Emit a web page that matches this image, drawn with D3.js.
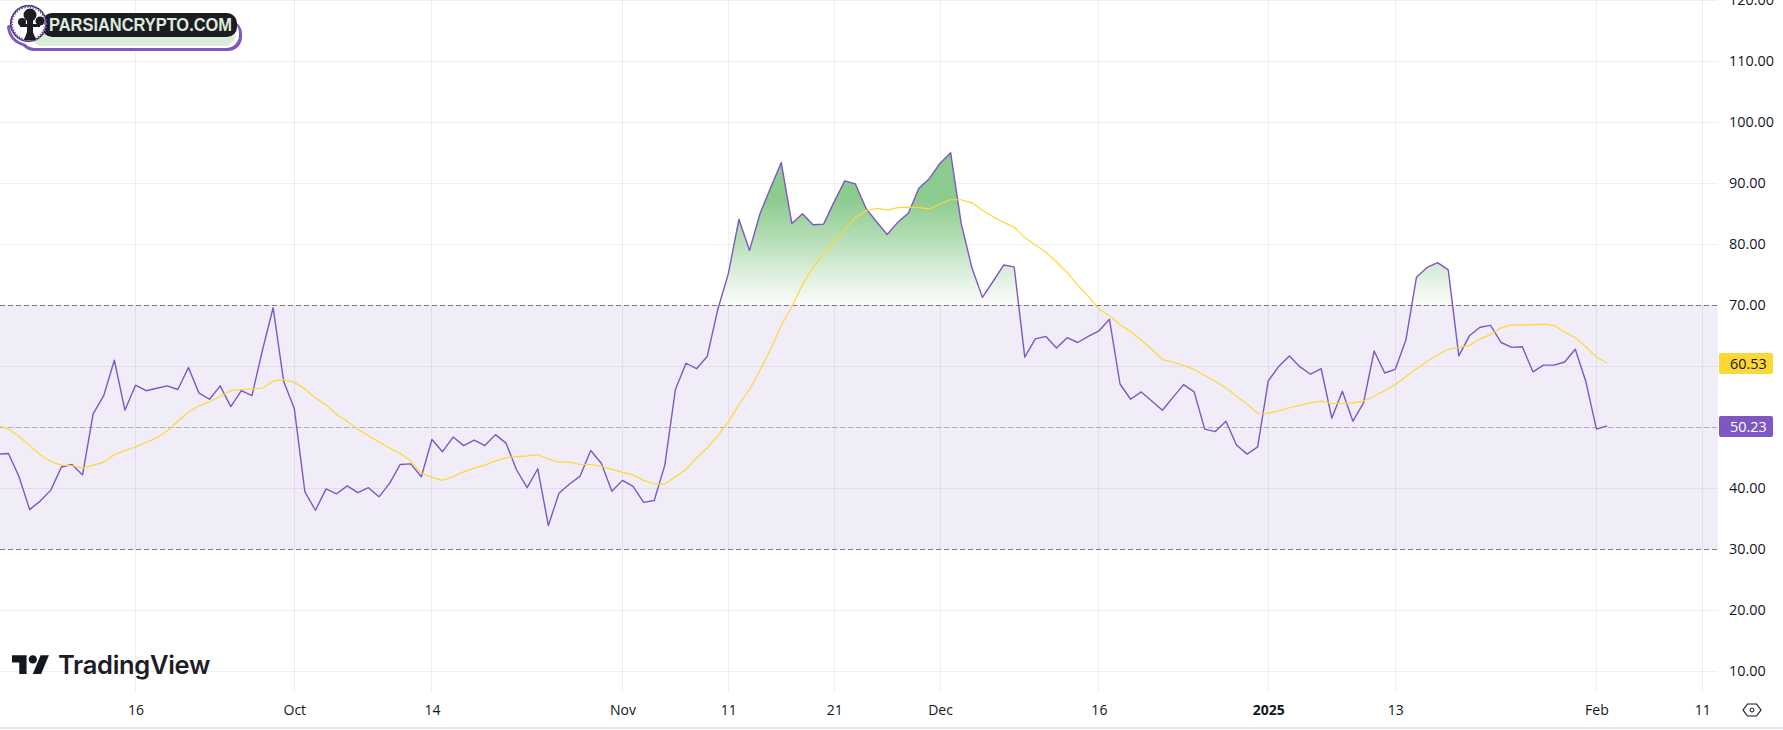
<!DOCTYPE html>
<html>
<head>
<meta charset="utf-8">
<script src="https://cdn.jsdelivr.net/npm/d3@7/dist/d3.min.js"></script>
<style>
  html, body { margin: 0; padding: 0; background: #fff; overflow: hidden; }
  svg { display: block; }
  text { font-family: "Open Sans", "Noto Sans", sans-serif; }
</style>
</head>
<body>
<svg id="chart" width="1783" height="730"></svg>
<script>
// Daily RSI readings, first value is 3 Sep 2024
const firstDay = "2024-09-03";
const rsiSep = [45.6,45.7,41.9,36.5,37.9,39.7,43.5,43.9,42.2,52.2,55.2,61.0,52.8,56.9,56.0,56.4,56.8,56.2,59.8,55.6,54.6,56.8,53.4,56.0,55.2,62.7,69.6,57.5];
const rsiOct = [53.1,39.4,36.4,39.9,39.1,40.4,39.3,40.1,38.6,40.8,43.9,44.0,41.9,48.0,46.0,48.4,47.0,47.9,47.0,48.8,47.4,43.0,40.1,43.2,33.9,39.2,40.7,42.0,46.2,44.1,39.5];
const rsiNov = [41.3,40.3,37.7,38.0,43.8,56.2,60.5,59.6,61.6,69.3,75.2,84.1,79.0,85.1,89.3,93.4,83.4,85.0,83.2,83.3,87.0,90.4,89.9,85.9,83.7,81.6,83.6,85.1,89.2,90.8];
const rsiDec = [93.3,95.0,83.4,76.2,71.3,73.9,76.6,76.3,61.5,64.5,64.9,63.0,64.7,63.9,64.9,65.8,67.7,57.1,54.6,55.8,54.3,52.8,54.9,57.0,55.8,49.7,49.3,51.0,47.1,45.6,46.8];
const rsiJan = [57.6,60.0,61.7,59.9,58.7,59.6,51.5,55.9,51.0,54.0,62.5,58.9,59.5,64.3,74.6,76.2,77.0,75.8,61.7,65.0,66.4,66.7,63.9,63.1,63.2,59.1,60.2,60.2,60.7,62.8,57.5];
const rsiFeb = [49.7,50.23];

// Smoothed RSI on the same days
const maSep = [50.3,49.7,48.5,47.0,45.5,44.4,43.8,43.7,43.3,43.8,44.3,45.5,46.2,46.8,47.5,48.3,49.4,51.0,52.5,53.5,54.2,55.1,56.0,56.2,56.3,56.4,57.6,57.8];
const maOct = [57.4,56.3,54.8,53.7,52.1,51.0,49.7,48.6,47.6,46.6,45.7,44.5,42.5,41.8,41.3,41.9,42.7,43.3,43.8,44.5,45.0,45.2,45.3,45.5,44.8,44.3,44.3,43.9,43.9,43.6,43.1];
const maNov = [42.6,42.2,41.3,40.7,40.7,41.9,43.1,45.0,46.6,48.6,50.9,53.7,56.2,59.4,62.8,66.7,69.8,73.4,76.2,78.4,80.3,82.5,84.4,85.5,85.9,85.6,86.0,86.1,86.0,85.8];
const maDec = [86.6,87.3,87.3,86.8,85.6,84.5,83.6,82.8,81.1,79.9,78.7,77.1,75.4,73.3,71.5,69.4,68.3,66.8,65.7,64.3,62.8,61.1,60.7,60.1,59.5,58.5,57.5,56.5,55.1,53.8,52.3];
const maJan = [52.3,52.7,53.2,53.6,54.0,54.3,53.9,53.9,54.0,54.3,55.1,56.0,57.0,58.3,59.6,60.8,61.9,62.8,63.1,63.4,64.5,65.2,66.3,66.8,66.8,66.8,66.9,66.7,65.6,64.7,63.2];
const maFeb = [61.5,60.53];

const timeTickDays = ["2024-09-16","2024-10-01","2024-10-14","2024-11-01","2024-11-11","2024-11-21","2024-12-01","2024-12-16","2025-01-01","2025-01-13","2025-02-01","2025-02-11"];
const timeTickLabels = ["16","Oct","14","Nov","11","21","Dec","16","2025","13","Feb","11"];
const valueTicks = [10,20,30,40,50,60,70,80,90,100,110,120];

const rsi = [].concat(rsiSep, rsiOct, rsiNov, rsiDec, rsiJan, rsiFeb);
const ma = [].concat(maSep, maOct, maNov, maDec, maJan, maFeb);
const start = new Date(firstDay + "T00:00:00Z");
const days = rsi.map((_, i) => d3.utcDay.offset(start, i));

const plotRight = 1718;
const plotBottom = 692;
const svg = d3.select("#chart");

// Pane scales: 6.1 px per RSI point, 10.586 px per day
const y = d3.scaleLinear().domain([10, 120]).range([671.3, 0.3]);
const x = d3.scaleUtc()
  .domain([new Date("2024-09-16T00:00:00Z"), new Date("2025-02-11T00:00:00Z")])
  .range([135.5, 1702.3]);

const defs = svg.append("defs");
defs.append("clipPath").attr("id", "pane")
  .append("rect").attr("x", 0).attr("y", 0).attr("width", plotRight).attr("height", plotBottom);
defs.append("clipPath").attr("id", "overbought")
  .append("rect").attr("x", 0).attr("y", 0).attr("width", plotRight).attr("height", y(70));
const grad = defs.append("linearGradient").attr("id", "obFill")
  .attr("gradientUnits", "userSpaceOnUse")
  .attr("x1", 0).attr("x2", 0).attr("y1", y(87.5)).attr("y2", y(70));
grad.append("stop").attr("offset", 0).attr("stop-color", "#8ccb8e");
grad.append("stop").attr("offset", 0.35).attr("stop-color", "#b2dcb3");
grad.append("stop").attr("offset", 0.7).attr("stop-color", "#dcefdc");
grad.append("stop").attr("offset", 1).attr("stop-color", "#fbfdfb");

// Neutral band between the 30 and 70 levels
svg.append("rect")
  .attr("x", 0).attr("width", plotRight)
  .attr("y", y(70)).attr("height", y(30) - y(70))
  .attr("fill", "#f0edf8");

// Grid
const gridColor = "rgba(42,46,90,0.075)";
const grid = svg.append("g");
grid.selectAll(".h").data(valueTicks).join("line")
  .attr("x1", 0).attr("x2", plotRight)
  .attr("y1", d => Math.floor(y(d)) + 0.5).attr("y2", d => Math.floor(y(d)) + 0.5)
  .attr("stroke", gridColor);
grid.selectAll(".v").data(timeTickDays).join("line")
  .attr("x1", d => Math.floor(x(new Date(d + "T00:00:00Z"))) + 0.5)
  .attr("x2", d => Math.floor(x(new Date(d + "T00:00:00Z"))) + 0.5)
  .attr("y1", 0).attr("y2", plotBottom)
  .attr("stroke", gridColor);

// Gradient fill where RSI runs above 70
svg.append("g").attr("clip-path", "url(#overbought)")
  .append("path")
  .datum(rsi)
  .attr("fill", "url(#obFill)")
  .attr("d", d3.area().x((_, i) => x(days[i])).y0(y(70)).y1(d => y(d)));

// Reference levels
const levels = [
  { v: 70, color: "#787b86", op: 1 },
  { v: 50, color: "#787b86", op: 0.5 },
  { v: 30, color: "#787b86", op: 1 }
];
svg.selectAll(".level").data(levels).join("line")
  .attr("x1", 0).attr("x2", plotRight)
  .attr("y1", d => Math.round(y(d.v)) + 0.5).attr("y2", d => Math.round(y(d.v)) + 0.5)
  .attr("stroke", d => d.color).attr("stroke-opacity", d => d.op)
  .attr("stroke-dasharray", "5 3");

// Series
const lineGen = d3.line().x((_, i) => x(days[i])).y(d => y(d));
const lines = svg.append("g").attr("clip-path", "url(#pane)");
lines.append("path").datum(rsi)
  .attr("fill", "none").attr("stroke", "#7e57c2").attr("stroke-width", 1.4)
  .attr("stroke-linejoin", "round").attr("d", lineGen);
lines.append("path").datum(ma)
  .attr("fill", "none").attr("stroke", "#fdd835").attr("stroke-width", 1.2)
  .attr("stroke-linejoin", "round").attr("d", lineGen);

// Value axis, labels start at a fixed left edge
const valueAxis = d3.axisRight(y).tickValues(valueTicks)
  .tickFormat(d3.format(".2f")).tickSize(0).tickPadding(0);
const gY = svg.append("g").attr("transform", "translate(1729,0)").call(valueAxis);
gY.select(".domain").remove();
gY.selectAll("text")
  .attr("text-anchor", "start").attr("x", 0)
  .style("font-size", "14.4px").attr("fill", "#131722");

// Time axis
const timeAxis = d3.axisBottom(x)
  .tickValues(timeTickDays.map(d => new Date(d + "T00:00:00Z")))
  .tickFormat((_, i) => timeTickLabels[i]).tickSize(0).tickPadding(0);
const gX = svg.append("g").attr("transform", "translate(0,705)").call(timeAxis);
gX.select(".domain").remove();
gX.selectAll("text")
  .style("font-size", "14px")
  .attr("fill", "#131722")
  .style("font-weight", (_, i) => timeTickLabels[i] === "2025" ? 700 : 400);

// Bottom edge
svg.append("rect").attr("x", 0).attr("y", 727).attr("width", 1783).attr("height", 2).attr("fill", "#e6e8ee");

// Last-value tags
const tags = [
  { v: ma[ma.length - 1], fill: "#fdd835", ink: "#131722", tagY: 353 },
  { v: rsi[rsi.length - 1], fill: "#7e57c2", ink: "#ffffff", tagY: 416 }
];
const tagG = svg.selectAll(".tag").data(tags).join("g");
tagG.append("rect")
  .attr("x", 1719).attr("width", 54).attr("y", d => d.tagY).attr("height", 21).attr("rx", 2)
  .attr("fill", d => d.fill);
tagG.append("text")
  .attr("x", 1730).attr("y", d => d.tagY + 15.5)
  .style("font-size", "14.4px").attr("fill", d => d.ink)
  .text(d => d.v.toFixed(2));

// Settings hexagon beside the time axis
const hex = svg.append("g").attr("transform", "translate(1752,710)");
hex.append("path").attr("d", "M-9,0L-4.5,-6H4.5L9,0L4.5,6H-4.5Z")
  .attr("fill", "none").attr("stroke", "#131722").attr("stroke-width", 1.2);
hex.append("circle").attr("r", 2).attr("fill", "none").attr("stroke", "#131722");

// TradingView mark and wordmark
const tv = svg.append("g");
tv.append("g").attr("transform", "translate(12,651.1) scale(1.04)")
  .attr("fill", "#131722")
  .call(g => {
    g.append("path").attr("d", "M14 22H7V11H0V4h14v18zM28 22h-8l7.5-18h8L28 22z");
    g.append("circle").attr("cx", 20).attr("cy", 8).attr("r", 4);
  });
tv.append("text").attr("x", 58).attr("y", 674)
  .style("font-family", "Inter, 'Open Sans', sans-serif")
  .style("font-size", "25.5px").style("font-weight", 600).style("letter-spacing", "-0.3px")
  .attr("fill", "#1c1e26").text("TradingView");

// Site watermark, top left
const wm = svg.append("g");
wm.append("rect").attr("x", 20).attr("y", 20).attr("width", 222).attr("height", 31).attr("rx", 14).attr("fill", "#7e57c2");
wm.append("path").attr("d", "M7,26 C8,42 22,50 40,46 L40,36 L16,22 Z").attr("fill", "#7e57c2");
wm.append("rect").attr("x", 22).attr("y", 20).attr("width", 217).attr("height", 28).attr("rx", 13).attr("fill", "#ffffff");
wm.append("path").attr("d", "M10,27 C11,40 24,47 40,44 L40,34 L18,24 Z").attr("fill", "#ffffff");
wm.append("rect").attr("x", 30).attr("y", 20).attr("width", 206).attr("height", 26).attr("rx", 12).attr("fill", "#dcecd9");
wm.append("rect").attr("x", 42).attr("y", 13).attr("width", 195).attr("height", 24).attr("rx", 10).attr("fill", "#1b1d23");
wm.append("circle").attr("cx", 28.5).attr("cy", 23.5).attr("r", 18.5).attr("fill", "#1b1d23");
wm.append("circle").attr("cx", 28.5).attr("cy", 23.5).attr("r", 17).attr("fill", "#ffffff");
wm.append("circle").attr("cx", 28.5).attr("cy", 23.5).attr("r", 17).attr("fill", "none")
  .attr("stroke", "#7e57c2").attr("stroke-width", 3).attr("stroke-dasharray", "1.5 1.5");
wm.append("g").attr("fill", "#1b1d23").call(g => {
  g.append("circle").attr("cx", 30).attr("cy", 15).attr("r", 6.5);
  g.append("circle").attr("cx", 22).attr("cy", 22).attr("r", 4);
  g.append("circle").attr("cx", 40).attr("cy", 21).attr("r", 4.5);
  g.append("path").attr("d", "M27,18h6v14l3,8h-12l3,-8z");
  g.append("rect").attr("x", 20).attr("y", 24).attr("width", 20).attr("height", 3);
});
wm.append("text").attr("x", 49).attr("y", 31)
  .attr("textLength", 183).attr("lengthAdjust", "spacingAndGlyphs")
  .style("font-family", "'Liberation Sans', Arial, sans-serif")
  .style("font-size", "18px").style("font-weight", 700)
  .attr("fill", "#dfeadb").text("PARSIANCRYPTO.COM");
</script>
</body>
</html>
